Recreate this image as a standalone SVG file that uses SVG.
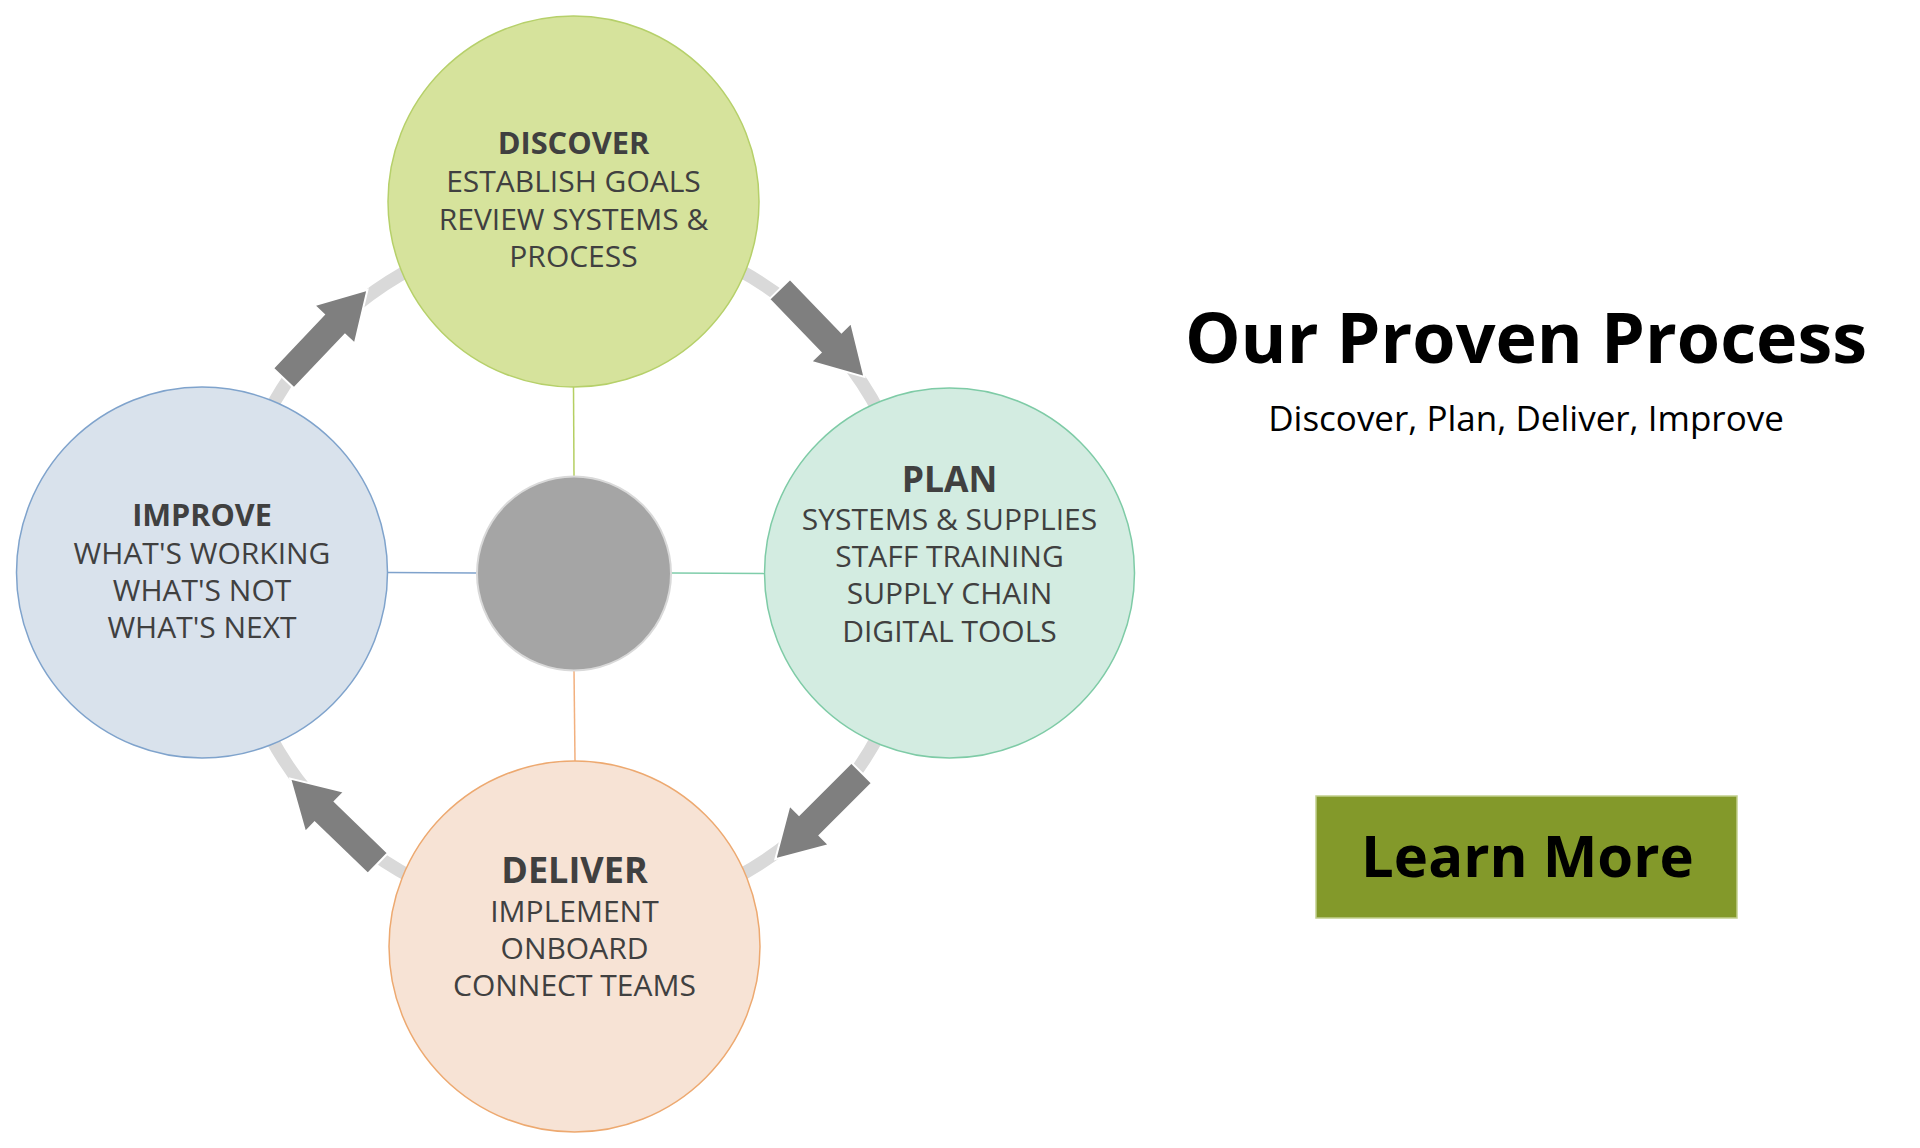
<svg xmlns="http://www.w3.org/2000/svg" width="1920" height="1148" viewBox="0 0 1920 1148">
<defs>
<style>
.t{font-family:"Open Sans","Noto Sans","Liberation Sans",sans-serif;fill:#404040;text-anchor:middle;}
.h{font-weight:bold;}
.b{font-size:30px;}
.arrow{fill:#7F7F7F;stroke:#FFFFFF;stroke-width:2;}
.link{stroke-width:1.5;fill:none;}
.side{font-family:"Open Sans","Noto Sans","Liberation Sans",sans-serif;fill:#000000;text-anchor:middle;}
</style>
<polygon id="arr" points="-61,-14.5 13,-14.5 13,-28 61,0 13,28 13,14.5 -61,14.5"/>
</defs>
<rect width="1920" height="1148" fill="#FFFFFF"/>
<g id="ring">
<circle cx="574" cy="573" r="345" fill="none" stroke="#D9D9D9" stroke-width="13"/>
</g>
<g id="connectors">
<line class="link" x1="573.5" y1="387" x2="574" y2="477" stroke="#B5CF62"/>
<line class="link" x1="671" y1="573" x2="764" y2="573.5" stroke="#7FCDAA"/>
<line class="link" x1="574" y1="670" x2="575" y2="761" stroke="#F2B07E"/>
<line class="link" x1="388" y1="572.5" x2="477" y2="573" stroke="#7FA2CC"/>
<use href="#arr" class="arrow" transform="translate(822,333) rotate(46)"/>
<use href="#arr" class="arrow" transform="translate(818.5,816) rotate(135)"/>
<use href="#arr" class="arrow" transform="translate(334,821) rotate(224)"/>
<use href="#arr" class="arrow" transform="translate(325.5,334) rotate(-46.5)"/>
</g>
<g id="center">
<circle cx="574" cy="573.5" r="97" fill="#A5A5A5" stroke="#D9D9D9" stroke-width="2"/>
</g>
<g id="discover">
<circle cx="573.5" cy="201.5" r="185.5" fill="#D6E39C" stroke="#B6D06A" stroke-width="1.5"/>
<text class="t h" x="573.5" y="154" font-size="30.8">DISCOVER</text>
<text class="t b" x="573.5" y="192">ESTABLISH GOALS</text>
<text class="t b" x="573.5" y="230">REVIEW SYSTEMS &amp;</text>
<text class="t b" x="573.5" y="267">PROCESS</text>
</g>
<g id="plan">
<circle cx="949.5" cy="573" r="185" fill="#D3ECE1" stroke="#7ECBA6" stroke-width="1.5"/>
<text class="t h" x="949.5" y="492" font-size="35.5">PLAN</text>
<text class="t b" x="949.5" y="530">SYSTEMS &amp; SUPPLIES</text>
<text class="t b" x="949.5" y="567">STAFF TRAINING</text>
<text class="t b" x="949.5" y="604">SUPPLY CHAIN</text>
<text class="t b" x="949.5" y="642">DIGITAL TOOLS</text>
</g>
<g id="deliver">
<circle cx="574.5" cy="946.5" r="185.5" fill="#F7E3D5" stroke="#EDA970" stroke-width="1.5"/>
<text class="t h" x="574.5" y="883" font-size="36">DELIVER</text>
<text class="t b" x="574.5" y="922">IMPLEMENT</text>
<text class="t b" x="574.5" y="959">ONBOARD</text>
<text class="t b" x="574.5" y="996">CONNECT TEAMS</text>
</g>
<g id="improve">
<circle cx="202" cy="572.5" r="185.5" fill="#D9E2EC" stroke="#7FA3CC" stroke-width="1.5"/>
<text class="t h" x="202" y="525.5" font-size="30.6">IMPROVE</text>
<text class="t b" x="202" y="563.5">WHAT'S WORKING</text>
<text class="t b" x="202" y="601">WHAT'S NOT</text>
<text class="t b" x="202" y="638">WHAT'S NEXT</text>
</g>
<g id="title">
<text class="side" x="1526" y="363" font-weight="bold" font-size="70">Our Proven Process</text>
<text class="side" x="1526" y="431" font-size="35">Discover, Plan, Deliver, Improve</text>
</g>
<g id="learn-more">
<rect x="1316" y="796" width="421" height="122" fill="#83992A" stroke="#C2CF8E" stroke-width="1.5"/>
<text class="side" x="1527.5" y="877" font-weight="bold" font-size="58">Learn More</text>
</g>
</svg>
